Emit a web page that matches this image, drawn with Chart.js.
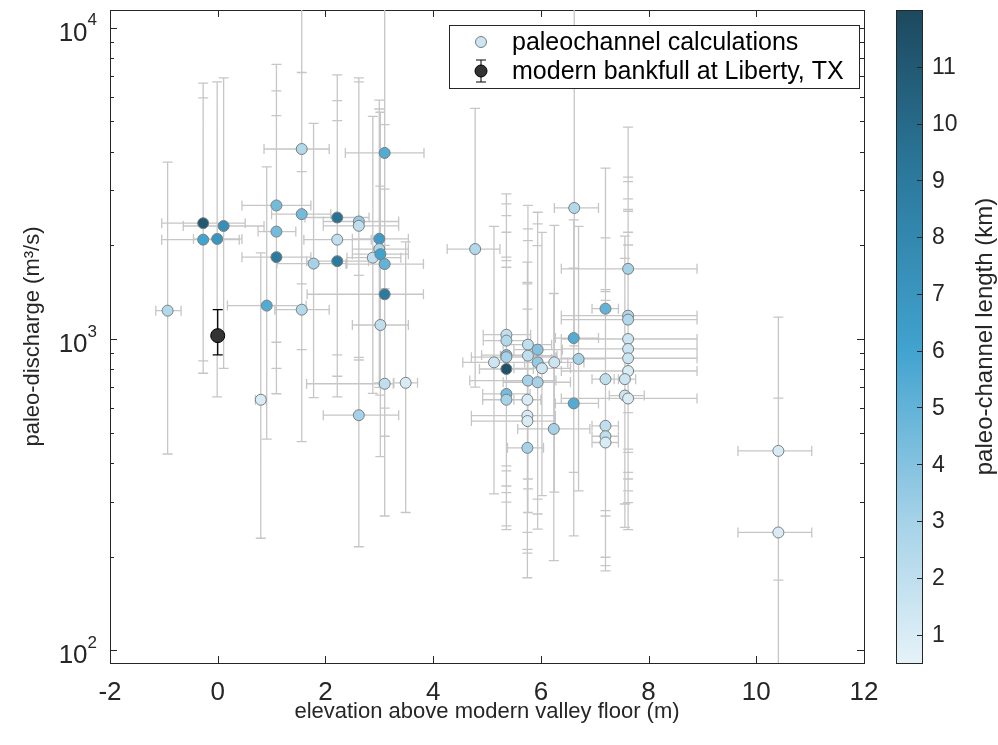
<!DOCTYPE html>
<html>
<head>
<meta charset="utf-8">
<script src="https://cdn.jsdelivr.net/npm/chart.js@4.4.0/dist/chart.umd.min.js"></script>
<style>
  html, body { margin: 0; padding: 0; background: #fff; }
</style>
</head>
<body>
<canvas id="chart" width="998" height="745"></canvas>
<script>
// paleochannel points: elevation (m), discharge (m3/s), error bounds, channel length (km)
const elev = [-0.93,-0.27,-0.27,0.11,-0.01,1.09,1.09,1.09,1.56,1.56,1.78,2.22,2.22,2.22,2.62,2.62,3.00,3.00,2.88,3.02,3.10,3.10,3.10,0.91,1.56,3.02,4.78,0.80,3.10,3.49,2.62,
  7.20,7.62,7.62,6.61,5.36,5.36,5.76,5.94,7.62,7.62,7.62,5.36,5.36,5.13,5.76,5.94,6.02,6.25,6.70,5.36,7.62,5.76,5.94,7.20,7.56,5.36,5.36,5.75,6.61,7.56,7.62,5.75,5.75,6.24,7.20,7.20,7.20,5.75,10.41,10.41,6.62,7.62];
const elevLo = [-1.15,-1.04,-1.04,-0.64,-0.45,0.45,0.75,0.45,0.86,1.00,1.10,1.62,1.60,1.65,1.96,1.96,2.50,2.50,2.40,2.50,2.38,2.37,1.66,0.18,1.06,2.50,4.26,0.70,1.65,3.27,1.96,
  6.95,6.38,6.38,6.27,4.93,4.93,5.30,5.50,6.38,6.38,6.38,4.90,4.71,4.55,5.25,5.40,5.50,5.70,6.20,4.86,6.38,4.68,5.30,6.95,7.36,4.92,4.92,5.50,6.27,7.27,6.38,4.71,4.71,5.57,6.95,6.95,6.95,5.38,9.66,9.66,6.25,6.38];
const elevHi = [-0.68,0.51,0.40,0.86,0.45,1.73,1.45,1.73,2.07,2.10,2.40,2.81,2.85,2.80,3.36,3.36,3.54,3.54,3.40,3.54,3.82,3.83,3.82,1.64,2.07,3.54,5.24,0.90,3.26,3.71,3.36,
  7.44,8.90,8.90,7.07,5.81,5.81,6.20,6.40,8.90,8.90,8.90,5.80,6.28,5.70,6.30,6.50,6.55,6.80,7.20,5.86,8.90,6.28,6.55,7.44,7.76,5.80,5.80,6.00,7.07,7.92,8.90,6.27,6.27,6.91,7.44,7.44,7.44,6.05,11.03,11.03,7.07,8.90];
const discharge = [1233,2355,2085,2307,2096,2685,2213,1832,4077,2518,1747,2456,2085,1778,2385,2310,2098,1945,1825,1873,1741,3960,1392,1280,1242,1109,1945,638,718,723,569,
  1251,1188,1154,1007,1032,988,959,924,1000,929,867,888,874,841,884,841,805,841,863,801,789,735,726,743,743,666,638,638,621,658,644,567,545,514,526,487,465,447,437,239,2636,1680];
const dischargeLo = [427,851,776,805,652,976,805,667,1503,924,648,889,759,652,873,856,722,699,669,660,600,1450,487,477,468,419,700,229,270,277,215,
  281,443,432,373,337,321,355,306,373,355,325,391,299,318,330,274,314,322,325,377,298,277,245,270,295,251,244,239,233,248,244,211,205,194,199,187,180,171,168,85,950,580];
const dischargeHi = [3700,6640,5950,6900,6700,7620,6270,5220,12000,7180,4930,7050,5830,5030,6900,6700,5850,5480,5190,5350,4880,12000,3030,3570,3450,3100,5510,1890,2000,2050,1600,
  3540,3310,3205,2414,2925,2716,2685,2554,2820,2606,2570,2489,2202,2300,2259,2343,2200,2316,2300,1832,2202,2070,1996,2112,1815,1786,1700,1766,1688,2139,2004,1520,1503,1400,1440,1420,1330,1248,1175,646,12000,4790];
const channelLength = [2.5,11,6,7.5,7,4.5,4.5,9,2.5,4.5,3,9.5,2,9,3.5,2,6.5,2.5,2,6,5,5.5,9,5.5,2.5,2,2.5,1,2,1,3,
  5,2.5,2.5,5.5,2,2.5,2,4,1.5,1.5,1.5,4,3,1.5,2,3.5,1.5,1.5,3,11.5,1,3,3,2,1.5,4.5,3,1,5.5,1.5,1,1,1,3,2,2,1,3,1,1,2.5,3];

// modern bankfull at Liberty, TX
const modernElev = [0];
const modernQ = [1025];
const modernQLo = [889];
const modernQHi = [1242];

const xTicks = [-2, 0, 2, 4, 6, 8, 10, 12];
const yTicks = [100, 1000, 10000];
const cbTicks = [1, 2, 3, 4, 5, 6, 7, 8, 9, 10, 11];

const FONT = '"Liberation Sans", Arial, Helvetica, sans-serif';
const AX = '#262626';
const BAR = '#c6c6c6';
const CAP = 5;

// colormap used for the channel length
const cmap = [[0.5, [229, 242, 248]], [3, [165, 210, 232]], [6, [65, 163, 207]], [9, [44, 122, 158]], [12, [28, 73, 94]]];
function lengthColor(v) {
  if (v <= cmap[0][0]) return 'rgb(' + cmap[0][1].join(',') + ')';
  for (let k = 1; k < cmap.length; k++) {
    if (v <= cmap[k][0]) {
      const t = (v - cmap[k - 1][0]) / (cmap[k][0] - cmap[k - 1][0]);
      const a = cmap[k - 1][1], b = cmap[k][1];
      return 'rgb(' + a.map((c, j) => Math.round(c + (b[j] - c) * t)).join(',') + ')';
    }
  }
  return 'rgb(' + cmap[cmap.length - 1][1].join(',') + ')';
}

function vBar(ctx, px, y1, y2) {
  ctx.moveTo(px, y1); ctx.lineTo(px, y2);
  ctx.moveTo(px - CAP, y1); ctx.lineTo(px + CAP, y1);
  ctx.moveTo(px - CAP, y2); ctx.lineTo(px + CAP, y2);
}

// axes box, ticks and error bars (drawn under the markers)
const underlay = {
  id: 'underlay',
  beforeDatasetsDraw(chart) {
    const { ctx, chartArea: a, scales: { x, y } } = chart;
    ctx.save();
    ctx.strokeStyle = AX;
    ctx.lineWidth = 1;
    ctx.strokeRect(Math.round(a.left) + 0.5, Math.round(a.top) + 0.5, Math.round(a.right - a.left), Math.round(a.bottom - a.top));
    ctx.beginPath();
    xTicks.forEach(v => {
      const px = Math.round(x.getPixelForValue(v)) + 0.5;
      ctx.moveTo(px, a.bottom); ctx.lineTo(px, a.bottom - 7);
      ctx.moveTo(px, a.top); ctx.lineTo(px, a.top + 7);
    });
    for (let e = 1; e <= 4; e++) {
      for (let m = 1; m <= 9; m++) {
        const v = m * Math.pow(10, e);
        if (v < y.min || v > y.max) continue;
        const py = Math.round(y.getPixelForValue(v)) + 0.5;
        const len = m === 1 ? 7 : 4;
        ctx.moveTo(a.left, py); ctx.lineTo(a.left + len, py);
        ctx.moveTo(a.right, py); ctx.lineTo(a.right - len, py);
      }
    }
    ctx.stroke();

    ctx.beginPath();
    ctx.rect(a.left, a.top, a.right - a.left, a.bottom - a.top);
    ctx.clip();
    ctx.strokeStyle = BAR;
    ctx.lineWidth = 1.3;
    ctx.beginPath();
    for (let i = 0; i < elev.length; i++) {
      const px = x.getPixelForValue(elev[i]);
      const py = y.getPixelForValue(discharge[i]);
      vBar(ctx, px, y.getPixelForValue(dischargeLo[i]), y.getPixelForValue(dischargeHi[i]));
      const x1 = x.getPixelForValue(elevLo[i]), x2 = x.getPixelForValue(elevHi[i]);
      ctx.moveTo(x1, py); ctx.lineTo(x2, py);
      ctx.moveTo(x1, py - CAP); ctx.lineTo(x1, py + CAP);
      ctx.moveTo(x2, py - CAP); ctx.lineTo(x2, py + CAP);
    }
    ctx.stroke();
    ctx.strokeStyle = '#000';
    ctx.beginPath();
    modernElev.forEach((v, i) => {
      vBar(ctx, x.getPixelForValue(v), y.getPixelForValue(modernQLo[i]), y.getPixelForValue(modernQHi[i]));
    });
    ctx.stroke();
    ctx.restore();
  }
};

// y tick labels 10^n, legend box, colorbar
const overlay = {
  id: 'overlay',
  afterDraw(chart) {
    const { ctx, chartArea: a, scales: { y, cb } } = chart;
    ctx.save();
    ctx.fillStyle = AX;
    ctx.textAlign = 'right';
    ctx.textBaseline = 'middle';
    yTicks.forEach(v => {
      const py = y.getPixelForValue(v);
      const ex = String(Math.round(Math.log10(v)));
      ctx.font = '17px ' + FONT;
      const ew = ctx.measureText(ex).width;
      ctx.fillText(ex, a.left - 13, py - 7);
      ctx.font = '26px ' + FONT;
      ctx.fillText('10', a.left - 13 - ew, py + 6);
    });

    // legend
    const lx = a.right - 415, ly = a.top + 15, lw = 410, lh = 63;
    ctx.fillStyle = '#fff';
    ctx.fillRect(lx, ly, lw, lh);
    ctx.strokeStyle = AX;
    ctx.lineWidth = 1;
    ctx.strokeRect(Math.round(lx) + 0.5, Math.round(ly) + 0.5, lw, lh);
    const mx = lx + 32, y1 = ly + 17, y2 = ly + 46;
    ctx.beginPath();
    ctx.arc(mx, y1, 5.5, 0, Math.PI * 2);
    ctx.fillStyle = lengthColor(1.5);
    ctx.fill();
    ctx.strokeStyle = '#7d7d7d';
    ctx.stroke();
    ctx.strokeStyle = '#000';
    ctx.beginPath();
    vBar(ctx, mx, y2 - 11, y2 + 11);
    ctx.stroke();
    ctx.beginPath();
    ctx.arc(mx, y2, 6, 0, Math.PI * 2);
    ctx.fillStyle = '#333';
    ctx.fill();
    ctx.stroke();
    ctx.fillStyle = '#000';
    ctx.textAlign = 'left';
    ctx.font = '25px ' + FONT;
    ctx.fillText(chart.data.datasets[0].label, lx + 63, y1 + 1);
    ctx.fillText(chart.data.datasets[1].label, lx + 63, y2 + 1);

    // colorbar
    const bx = a.right + 32, bw = 26, top = cb.top, bot = cb.bottom;
    const g = ctx.createLinearGradient(0, bot, 0, top);
    cmap.forEach(s => g.addColorStop((s[0] - cb.min) / (cb.max - cb.min), lengthColor(s[0])));
    ctx.fillStyle = g;
    ctx.fillRect(bx, top, bw, bot - top);
    ctx.strokeStyle = AX;
    ctx.strokeRect(Math.round(bx) + 0.5, Math.round(top) + 0.5, bw, Math.round(bot - top));
    ctx.beginPath();
    cbTicks.forEach(v => {
      const py = Math.round(cb.getPixelForValue(v)) + 0.5;
      ctx.moveTo(bx + bw, py); ctx.lineTo(bx + bw - 5, py);
    });
    ctx.stroke();
    ctx.fillStyle = AX;
    ctx.textAlign = 'left';
    ctx.font = '23px ' + FONT;
    cbTicks.forEach(v => {
      ctx.fillText(String(v), bx + bw + 10, cb.getPixelForValue(v) + 1);
    });
    ctx.translate(985, (top + bot) / 2);
    ctx.rotate(-Math.PI / 2);
    ctx.textAlign = 'center';
    ctx.font = '24px ' + FONT;
    ctx.fillText('paleo-channel length (km)', 0, 0);
    ctx.restore();
  }
};

const tickFont = { family: FONT, size: 26 };
const titleFont = { family: FONT, size: 22 };

new Chart(document.getElementById('chart'), {
  type: 'scatter',
  data: {
    datasets: [{
      label: 'paleochannel calculations',
      data: elev.map((v, i) => ({ x: v, y: discharge[i] })),
      pointBackgroundColor: channelLength.map(lengthColor),
      pointBorderColor: '#7d7d7d',
      pointBorderWidth: 1,
      pointRadius: 5.5
    }, {
      label: 'modern bankfull at Liberty, TX',
      data: modernElev.map((v, i) => ({ x: v, y: modernQ[i] })),
      pointBackgroundColor: '#333333',
      pointBorderColor: '#000',
      pointBorderWidth: 1,
      pointRadius: 7
    }]
  },
  options: {
    responsive: false,
    animation: false,
    layout: { padding: { top: 10, left: 0, right: 0, bottom: 0 } },
    plugins: { legend: { display: false }, tooltip: { enabled: false } },
    scales: {
      x: {
        type: 'linear', min: -2, max: 12,
        afterBuildTicks: s => { s.ticks = xTicks.map(v => ({ value: v })); },
        ticks: { font: tickFont, color: AX, padding: 6, maxRotation: 0 },
        grid: { display: false }, border: { display: false },
        title: { display: true, text: 'elevation above modern valley floor (m)', font: titleFont, color: AX, padding: { top: 0, bottom: 20 } },
        afterFit: s => { s.height = 82; }
      },
      y: {
        type: 'logarithmic', min: 91, max: 11400,
        ticks: { display: false },
        grid: { display: false }, border: { display: false },
        title: { display: true, text: 'paleo-discharge (m³/s)', font: titleFont, color: AX, padding: { top: 20, bottom: 0 } },
        afterFit: s => { s.width = 110; }
      },
      cb: {
        type: 'linear', position: 'right', min: 0.5, max: 12,
        ticks: { display: false },
        grid: { display: false }, border: { display: false },
        afterFit: s => { s.width = 134; }
      }
    }
  },
  plugins: [underlay, overlay]
});
</script>
</body>
</html>
